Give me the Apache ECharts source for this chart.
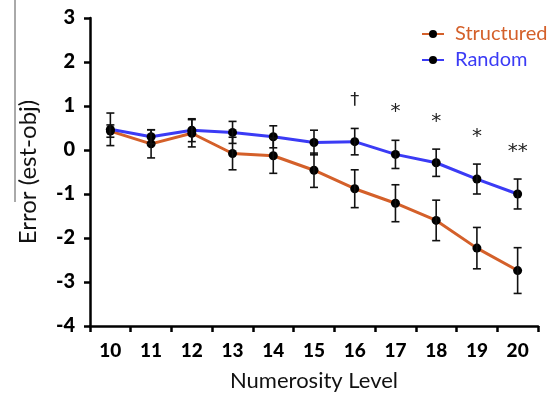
<!DOCTYPE html>
<html><head><meta charset="utf-8">
<script src="https://cdn.jsdelivr.net/npm/echarts@6/dist/echarts.min.js"></script>
<style>html,body{margin:0;padding:0;background:#fff}#c{width:557px;height:404px}</style>
</head><body><div id="c"></div>
<script>
const categories = ['10','11','12','13','14','15','16','17','18','19','20'];
const structured = [0.43, 0.14, 0.38, -0.08, -0.13, -0.46, -0.88, -1.21, -1.60, -2.23, -2.74];
const structuredErr = [0.14, 0.32, 0.31, 0.37, 0.40, 0.39, 0.43, 0.42, 0.46, 0.47, 0.52];
const random = [0.47, 0.30, 0.45, 0.40, 0.30, 0.17, 0.19, -0.10, -0.29, -0.66, -1.00];
const randomErr = [0.37, 0.16, 0.26, 0.25, 0.25, 0.28, 0.30, 0.32, 0.31, 0.34, 0.34];
const annotCats = ['16','17','18','19','20'];
const annotY = [1.14, 0.86, 0.64, 0.30, -0.04];
const annotText = ['†','*','*','*','**'];
const yTicks = [-4,-3,-2,-1,0,1,2,3];

const orange = '#d4602a', blue = '#3b3bf5';
function errData(vals, errs){ return vals.map((v,i)=>[i, v-errs[i], v+errs[i]]); }
function errRender(params, api){
  const x = api.value(0);
  const lo = api.coord([x, api.value(1)]);
  const hi = api.coord([x, api.value(2)]);
  const w = 4;
  const st = {stroke:'#111', lineWidth:1.6};
  return {type:'group', children:[
    {type:'line', shape:{x1:lo[0],y1:lo[1],x2:hi[0],y2:hi[1]}, style:st},
    {type:'line', shape:{x1:lo[0]-w,y1:lo[1],x2:lo[0]+w,y2:lo[1]}, style:st},
    {type:'line', shape:{x1:hi[0]-w,y1:hi[1],x2:hi[0]+w,y2:hi[1]}, style:st}
  ]};
}
const chart = echarts.init(document.getElementById('c'));
chart.setOption({
  animation:false,
  grid:{left:90,right:19,top:18,bottom:78},
  legend:{
    left:416, top:19, orient:'vertical', itemGap:6, itemWidth:22, itemHeight:10,
    textStyle:{fontFamily:'Lato', fontSize:20, padding:[0,0,0,6]},
    data:[{name:'Structured', textStyle:{color:orange}},{name:'Random', textStyle:{color:blue}}]
  },
  xAxis:{
    type:'category', data:categories, boundaryGap:true,
    name:'Numerosity Level', nameLocation:'middle', nameGap:44,
    nameTextStyle:{fontFamily:'Lato', fontSize:22, color:'#111'},
    axisLine:{onZero:false, lineStyle:{color:'#000', width:2.5}},
    axisTick:{show:true, length:6, lineStyle:{color:'#000', width:2.5}, alignWithLabel:false},
    axisLabel:{fontFamily:'Lato', fontWeight:900, fontSize:19, color:'#000', margin:15}
  },
  yAxis:{
    type:'value', min:yTicks[0], max:yTicks[yTicks.length-1], interval:1,
    name:'Error (est-obj)', nameLocation:'middle', nameGap:50,
    nameTextStyle:{fontFamily:'Lato', fontSize:24, color:'#111'},
    axisLine:{show:true, lineStyle:{color:'#000', width:2.5}},
    axisTick:{show:true, length:6, lineStyle:{color:'#000', width:2.5}},
    splitLine:{show:false},
    axisLabel:{fontFamily:'Lato', fontWeight:900, fontSize:20, color:'#000', margin:15}
  },
  graphic:[{type:'line', shape:{x1:15,y1:0,x2:15,y2:202}, style:{stroke:'#555', lineWidth:1}}],
  series:[
    {name:'Structured', type:'line', data:structured, symbol:'circle', symbolSize:9,
     lineStyle:{color:orange, width:3}, itemStyle:{color:'#000'}, z:3},
    {name:'Random', type:'line', data:random, symbol:'circle', symbolSize:9,
     lineStyle:{color:blue, width:3}, itemStyle:{color:'#000'}, z:3},
    {type:'custom', renderItem:errRender, data:errData(structured, structuredErr), encode:{x:0,y:[1,2]}, z:4},
    {type:'custom', renderItem:errRender, data:errData(random, randomErr), encode:{x:0,y:[1,2]}, z:4},
    {type:'custom', data:annotCats.map((c,i)=>[c, annotY[i], annotText[i]]), encode:{x:0,y:1}, z:5,
     renderItem:function(p, api){
       const pt = api.coord([api.value(0), api.value(1)]);
       const t = annotText[p.dataIndex];
       return {type:'text', x:pt[0], y:pt[1], style:{text:t, fill:'#222', fontSize:t==='†'?18:20, fontFamily:'DejaVu Sans', align:'center', verticalAlign:'middle'}};
     }}
  ]
});
</script></body></html>
